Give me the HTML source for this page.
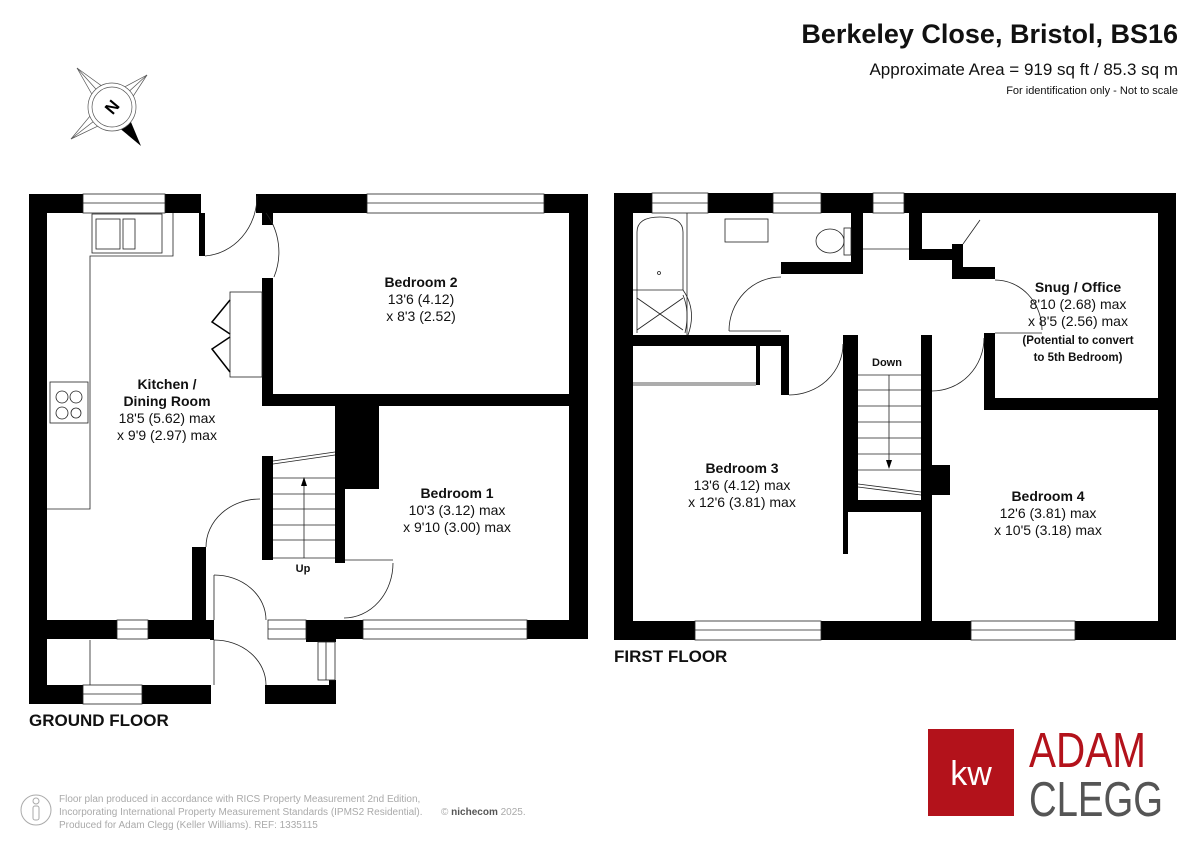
<!DOCTYPE html>
<html><head><meta charset="utf-8"><style>
html,body{margin:0;padding:0;background:#fff;}
svg{display:block;font-family:"Liberation Sans",Arial,sans-serif;}
</style></head><body>
<svg width="1200" height="849" viewBox="0 0 1200 849" xmlns="http://www.w3.org/2000/svg">
<rect width="1200" height="849" fill="#fff"/>
<!-- Header -->
<text x="1178" y="43" text-anchor="end" font-size="27" font-weight="bold" fill="#111">Berkeley Close, Bristol, BS16</text>
<text x="1178" y="75" text-anchor="end" font-size="17" fill="#111">Approximate Area = 919 sq ft / 85.3 sq m</text>
<text x="1178" y="94" text-anchor="end" font-size="11" fill="#111">For identification only - Not to scale</text>

<!-- Compass -->
<g stroke="#555" stroke-width="0.7" fill="#fff">
<polygon points="77,68 103.8,87.5 112,107 93.4,96.9"/>
<line x1="77" y1="68" x2="112" y2="107"/>
<polygon points="147,75 131.5,98.7 112,107 122.1,88.3"/>
<line x1="147" y1="75" x2="112" y2="107"/>
<polygon points="71,139 100.5,124.8 112,107 91.9,113.8"/>
<line x1="71" y1="139" x2="112" y2="107"/>
</g>
<polygon points="141,146 129.6,118.8 112,107 118.4,127.2" fill="#000"/>
<circle cx="112" cy="107" r="24" fill="#fff" stroke="#555" stroke-width="0.7"/>
<circle cx="112" cy="107" r="20" fill="#fff" stroke="#555" stroke-width="0.7"/>
<text x="112" y="113" text-anchor="middle" font-size="17" font-weight="bold" transform="rotate(-50 112 107)">N</text>

<!-- ================= GROUND FLOOR ================= -->
<g fill="#000">
<rect x="29" y="194" width="18" height="510"/>
<rect x="29" y="194" width="54" height="19"/>
<rect x="165" y="194" width="36" height="19"/>
<rect x="199" y="213" width="6" height="43"/>
<rect x="256" y="194" width="111" height="19"/>
<rect x="544" y="194" width="44" height="19"/>
<rect x="569" y="194" width="19" height="445"/>
<rect x="262" y="213" width="11" height="12"/>
<rect x="262" y="278" width="11" height="128"/>
<rect x="262" y="394" width="307" height="12"/>
<rect x="335" y="406" width="44" height="83"/>
<rect x="335" y="406" width="10" height="157"/>
<rect x="262" y="456" width="11" height="104"/>
<rect x="192" y="547" width="14" height="73"/>
<rect x="29" y="620" width="88" height="19"/>
<rect x="148" y="620" width="65" height="19"/>
<rect x="306" y="620" width="57" height="19"/>
<rect x="527" y="620" width="61" height="19"/>
<rect x="306" y="620" width="30" height="22"/>
<rect x="329" y="680" width="7" height="24"/>
<rect x="265" y="685" width="71" height="19"/>
<rect x="29" y="685" width="54" height="19"/>
<rect x="142" y="685" width="69" height="19"/>
<rect x="210" y="620" width="4" height="20"/>
</g>
<g fill="none" stroke="#222" stroke-width="0.8">
<rect x="83" y="194" width="82" height="19"/><line x1="83" y1="203" x2="165" y2="203"/>
<rect x="367" y="194" width="177" height="19"/><line x1="367" y1="203" x2="544" y2="203"/>
<rect x="117" y="620" width="31" height="19"/><line x1="117" y1="629" x2="148" y2="629"/>
<rect x="268" y="620" width="38" height="19"/><line x1="268" y1="629" x2="306" y2="629"/>
<rect x="363" y="620" width="164" height="19"/><line x1="363" y1="629" x2="527" y2="629"/>
<rect x="83" y="685" width="59" height="19"/><line x1="83" y1="694" x2="142" y2="694"/>
<rect x="318" y="642" width="17" height="38"/><line x1="326" y1="642" x2="326" y2="680"/>
<polyline points="47,509 90,509 90,256 173,256 173,213"/>
<rect x="92" y="214" width="70" height="39"/>
<rect x="96" y="219" width="24" height="30"/><rect x="123" y="219" width="12" height="30"/>
<rect x="50" y="382" width="38" height="41"/>
<circle cx="62" cy="397" r="6"/><circle cx="76" cy="397" r="6"/>
<circle cx="62" cy="413" r="6"/><circle cx="76" cy="413" r="5"/>
<rect x="230" y="292" width="32" height="85"/>
<line x1="90" y1="640" x2="90" y2="685"/>
<path d="M205,256 A56,60 0 0 0 257,196"/>
<path d="M266,213 A62,64 0 0 1 274,277"/>
<path d="M260,499 A54,48 0 0 0 206,547"/>
<path d="M393,563 A49,55 0 0 1 344,618"/>
<path d="M214,575 A52,45 0 0 1 266,620"/>
<path d="M214,640 A52,45 0 0 1 266,685"/>
<line x1="214" y1="575" x2="214" y2="620"/>
<line x1="214" y1="640" x2="214" y2="685"/>
<line x1="273" y1="461" x2="335" y2="452"/><line x1="273" y1="464" x2="335" y2="455"/>
<line x1="273" y1="478" x2="335" y2="478"/><line x1="273" y1="494" x2="335" y2="494"/>
<line x1="273" y1="509" x2="335" y2="509"/><line x1="273" y1="525" x2="335" y2="525"/>
<line x1="273" y1="540" x2="335" y2="540"/><line x1="273" y1="558" x2="335" y2="558"/>
<line x1="304" y1="558" x2="304" y2="482"/>
<line x1="345" y1="560" x2="393" y2="560"/>
</g>
<polygon points="304,477 301,486 307,486" fill="#000"/>
<g stroke="#000" stroke-width="1.5" fill="none">
<polyline points="230,300 212,322 230,334"/><polyline points="230,337 212,349 230,372"/>
</g>
<g font-size="14" text-anchor="middle" fill="#111">
<text x="421" y="287" font-weight="bold">Bedroom 2</text>
<text x="421" y="304">13'6 (4.12)</text>
<text x="421" y="321">x 8'3 (2.52)</text>
<text x="167" y="389" font-weight="bold">Kitchen /</text>
<text x="167" y="406" font-weight="bold">Dining Room</text>
<text x="167" y="423">18'5 (5.62) max</text>
<text x="167" y="440">x 9'9 (2.97) max</text>
<text x="457" y="498" font-weight="bold">Bedroom 1</text>
<text x="457" y="515">10'3 (3.12) max</text>
<text x="457" y="532">x 9'10 (3.00) max</text>
<text x="303" y="572" font-size="11" font-weight="bold">Up</text>
</g>
<text x="29" y="726" font-size="17" font-weight="bold" fill="#111">GROUND FLOOR</text>

<!-- ================= FIRST FLOOR ================= -->
<g fill="#000">
<rect x="614" y="193" width="19" height="447"/>
<rect x="614" y="193" width="38" height="20"/>
<rect x="708" y="193" width="65" height="20"/>
<rect x="821" y="193" width="52" height="20"/>
<rect x="904" y="193" width="272" height="20"/>
<rect x="1158" y="193" width="18" height="447"/>
<rect x="614" y="621" width="81" height="19"/>
<rect x="821" y="621" width="150" height="19"/>
<rect x="1075" y="621" width="101" height="19"/>
<rect x="851" y="213" width="12" height="61"/>
<rect x="781" y="262" width="82" height="12"/>
<rect x="909" y="213" width="13" height="47"/>
<rect x="909" y="249" width="54" height="11"/>
<rect x="952" y="244" width="11" height="33"/>
<rect x="952" y="267" width="43" height="12"/>
<rect x="633" y="335" width="156" height="11"/>
<rect x="781" y="335" width="8" height="60"/>
<rect x="843" y="335" width="15" height="177"/>
<rect x="843" y="512" width="5" height="42"/>
<rect x="852" y="500" width="69" height="12"/>
<rect x="921" y="335" width="11" height="286"/>
<rect x="932" y="465" width="18" height="30"/>
<rect x="984" y="333" width="11" height="77"/>
<rect x="984" y="398" width="174" height="12"/>
<rect x="756" y="346" width="4" height="39"/>
</g>
<g fill="none" stroke="#222" stroke-width="0.8">
<rect x="652" y="193" width="56" height="20"/><line x1="652" y1="203" x2="708" y2="203"/>
<rect x="773" y="193" width="48" height="20"/><line x1="773" y1="203" x2="821" y2="203"/>
<rect x="873" y="193" width="31" height="20"/><line x1="873" y1="203" x2="904" y2="203"/>
<rect x="695" y="621" width="126" height="19"/><line x1="695" y1="630" x2="821" y2="630"/>
<rect x="971" y="621" width="104" height="19"/><line x1="971" y1="630" x2="1075" y2="630"/>
<line x1="863" y1="249" x2="909" y2="249"/>
<line x1="687" y1="213" x2="687" y2="335"/>
<path d="M637,333 L637,232 Q637,217 660,217 Q683,217 683,232 L683,290"/>
<path d="M633,290 L683,290 Q697,310 688,335"/>
<path d="M683,295 Q690,312 685,333"/>
<line x1="637" y1="298" x2="683" y2="330"/><line x1="683" y1="298" x2="637" y2="330"/>
<circle cx="659" cy="273" r="1.5"/>
<rect x="725" y="219" width="43" height="23"/>
<ellipse cx="830" cy="241" rx="14" ry="12"/>
<rect x="844" y="228" width="7" height="27"/>
<line x1="633" y1="383" x2="756" y2="383"/><line x1="633" y1="385" x2="756" y2="385"/>
<path d="M729,331 A52,54 0 0 1 781,277"/>
<line x1="729" y1="331" x2="781" y2="331"/>
<path d="M789,395 A54,51 0 0 0 843,344"/>
<path d="M932,391 A52,53 0 0 0 984,338"/>
<path d="M995,280 A47,50 0 0 1 1042,330"/>
<line x1="995" y1="333" x2="1042" y2="333"/>
<line x1="963" y1="244" x2="980" y2="220"/>
<line x1="858" y1="375" x2="921" y2="375"/><line x1="858" y1="390" x2="921" y2="390"/>
<line x1="858" y1="406" x2="921" y2="406"/><line x1="858" y1="422" x2="921" y2="422"/>
<line x1="858" y1="438" x2="921" y2="438"/><line x1="858" y1="454" x2="921" y2="454"/>
<line x1="858" y1="470" x2="921" y2="470"/>
<line x1="858" y1="484" x2="921" y2="492"/><line x1="858" y1="487" x2="921" y2="495"/>
<line x1="889" y1="375" x2="889" y2="463"/>
</g>
<polygon points="889,469 886,460 892,460" fill="#000"/>
<g font-size="14" text-anchor="middle" fill="#111">
<text x="742" y="473" font-weight="bold">Bedroom 3</text>
<text x="742" y="490">13'6 (4.12) max</text>
<text x="742" y="507">x 12'6 (3.81) max</text>
<text x="1048" y="501" font-weight="bold">Bedroom 4</text>
<text x="1048" y="518">12'6 (3.81) max</text>
<text x="1048" y="535">x 10'5 (3.18) max</text>
<text x="1078" y="292" font-weight="bold">Snug / Office</text>
<text x="1078" y="309">8'10 (2.68) max</text>
<text x="1078" y="326">x 8'5 (2.56) max</text>
<text x="1078" y="344" font-size="11.5" font-weight="bold">(Potential to convert</text>
<text x="1078" y="361" font-size="11.5" font-weight="bold">to 5th Bedroom)</text>
<text x="887" y="366" font-size="11" font-weight="bold">Down</text>
</g>
<text x="614" y="662" font-size="17" font-weight="bold" fill="#111">FIRST FLOOR</text>

<!-- Footer -->
<circle cx="36" cy="810" r="15" fill="none" stroke="#aaa" stroke-width="1"/>
<circle cx="36" cy="801" r="3" fill="none" stroke="#aaa"/>
<rect x="33" y="806" width="6" height="14" rx="2" fill="none" stroke="#aaa"/>
<g font-size="10" fill="#aaa">
<text x="59" y="802">Floor plan produced in accordance with RICS Property Measurement 2nd Edition,</text>
<text x="59" y="815">Incorporating International Property Measurement Standards (IPMS2 Residential).</text>
<text x="59" y="828">Produced for Adam Clegg (Keller Williams).   REF: 1335115</text>
<text x="441" y="815">© <tspan fill="#555" font-weight="bold">nichecom</tspan> 2025.</text>
</g>

<!-- Logo -->
<rect x="928" y="729" width="86" height="87" fill="#b3121b"/>
<text x="971" y="785" text-anchor="middle" font-size="34" fill="#fff">kw</text>
<text x="1029" y="767" font-size="49" fill="#b3121b" textLength="117" lengthAdjust="spacingAndGlyphs">ADAM</text>
<text x="1029" y="816" font-size="49" fill="#555" textLength="134" lengthAdjust="spacingAndGlyphs">CLEGG</text>
</svg>
</body></html>
